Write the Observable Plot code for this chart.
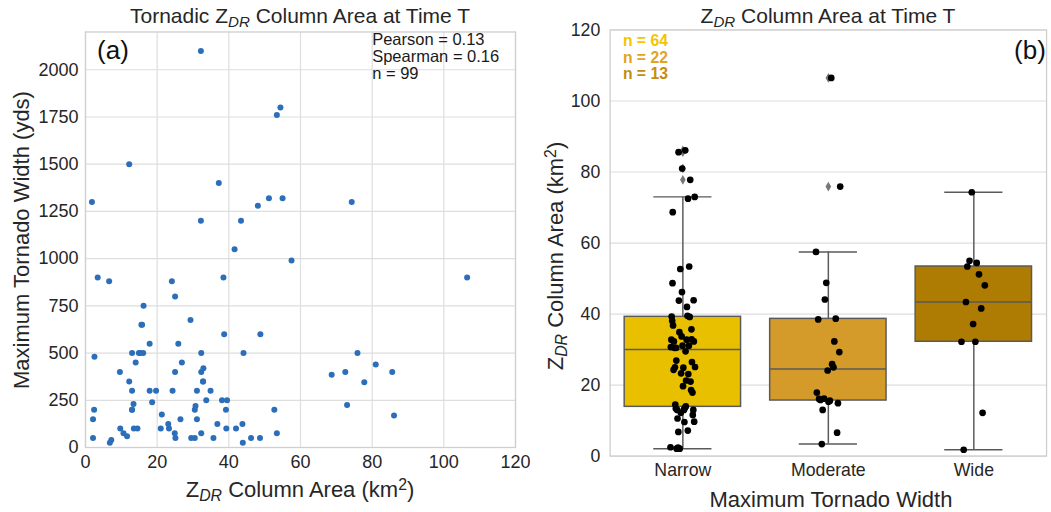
<!DOCTYPE html>
<html>
<head>
<meta charset="utf-8">
<script src="https://cdn.jsdelivr.net/npm/d3@7"></script>
<script src="https://cdn.jsdelivr.net/npm/@observablehq/plot@0.6"></script>
<style>
  html, body { margin: 0; padding: 0; background: #fff; }
  body { width: 1051px; height: 512px; overflow: hidden; position: relative;
         font-family: "Liberation Sans", Arial, sans-serif; color: #262626; }
  .lbl { position: absolute; white-space: nowrap; transform: translate(-50%, -50%); line-height: 1; }
  .rot { transform: translate(-50%, -50%) rotate(-90deg); }
  sub { font-style: italic; font-size: 0.72em; vertical-align: -0.28em; line-height: 0; }
  sup { font-size: 0.72em; vertical-align: 0.45em; line-height: 0; }
  #left, #right { position: absolute; top: 0; }
  #left { left: 0; }
  #right { left: 530px; }
</style>
</head>
<body>
<div id="left"></div>
<div id="right"></div>

<div class="lbl" style="left:300px; top:15px; font-size:21px;">Tornadic Z<sub>DR</sub> Column Area at Time T</div>
<div class="lbl" style="left:300px; top:490px; font-size:22px;">Z<sub>DR</sub> Column Area (km<sup>2</sup>)</div>
<div class="lbl rot" style="left:22px; top:240px; font-size:22px;">Maximum Tornado Width (yds)</div>
<div class="lbl" style="left:113px; top:50px; font-size:26px; color:#111;">(a)</div>

<div class="lbl" style="left:828px; top:15px; font-size:21px;">Z<sub>DR</sub> Column Area at Time T</div>
<div class="lbl" style="left:831px; top:500px; font-size:22px;">Maximum Tornado Width</div>
<div class="lbl rot" style="left:556px; top:256px; font-size:22px;">Z<sub>DR</sub> Column Area (km<sup>2</sup>)</div>
<div class="lbl" style="left:1030px; top:50px; font-size:26px; color:#111;">(b)</div>

<script>
// ---------- data ----------
// ZDR column area (km^2) for each tornado
const zdrArea = [
  // wide (>= 1000 yds)
  32.2, 54.4, 53.4, 12.2, 37.2, 1.8, 51.2, 55.0, 48.1, 32.2, 43.4, 41.6, 74.3,
  // moderate (500-999 yds)
  57.5, 106.5, 3.4, 6.6, 24.1, 38.5, 25.0, 16.2, 29.3, 15.6, 15.8, 38.7, 48.8,
  17.9, 25.9, 13.0, 14.9, 15.3, 16.1, 32.3, 44.1, 75.9,
  // narrow (< 500 yds)
  2.5, 14.0, 26.9, 32.9, 81.0, 68.7, 72.5, 85.6, 32.3, 9.6, 25.0, 77.8, 12.2,
  32.8, 32.8, 13.0, 17.9, 19.7, 24.3, 31.1, 34.9, 73.0, 86.1, 13.4, 18.6, 33.7,
  38.1, 39.5, 2.4, 13.0, 13.0, 30.5, 39.2, 52.7, 30.7, 21.3, 2.1, 26.5, 31.1,
  36.8, 23.1, 43.8, 9.7, 13.5, 14.5, 21.0, 23.3, 39.3, 42.0, 10.6, 11.6, 24.9,
  32.3, 53.4, 2.1, 25.1, 29.5, 30.5, 35.7, 46.2, 48.7, 7.2, 6.8, 43.9
];
// maximum tornado width (yds), same order
const tornadoWidth = [
  2100, 1800, 1760, 1500, 1400, 1300, 1320, 1320, 1280, 1200, 1200, 1050, 1300,
  990, 900, 900, 880, 880, 900, 800, 750, 675, 650, 650, 600, 600,
  550, 550, 500, 500, 500, 500, 500, 500, 500,
  480, 450, 450, 420, 440, 385, 400, 400, 400, 400, 400, 345, 350,
  350, 350, 300, 300, 300, 300, 300, 300, 225, 170, 230, 240, 250,
  250, 250, 200, 200, 200, 200, 200, 200, 220, 175, 150, 150, 150,
  125, 125, 125, 100, 100, 100, 100, 100, 100, 100, 75, 60, 75,
  75, 75, 50, 50, 50, 50, 50, 50, 50, 40, 25, 25
];
const widthClasses = ["Narrow", "Moderate", "Wide"];
const classLimits = [500, 1000];           // yds
const boxFills = ["#E8C000", "#D49B2A", "#AE7B03"];
const nColors = ["#F4C400", "#E3A31E", "#C68C0E"];
const statLabels = ["Pearson = 0.13", "Spearman = 0.16"];
const xTicksA = [0, 20, 40, 60, 80, 100, 120];
const yTicksA = [0, 250, 500, 750, 1000, 1250, 1500, 1750, 2000];
const yTicksB = [0, 20, 40, 60, 80, 100, 120];

// ---------- derived tables ----------
const points = zdrArea.map((a, i) => ({area: a, width: tornadoWidth[i]}));
const classOf = w => w < classLimits[0] ? 0 : w < classLimits[1] ? 1 : 2;
const strip = [];
const counters = [0, 0, 0];
points.forEach(p => {
  const c = classOf(p.width);
  const k = counters[c]++;
  const jit = (((k * 0.61803398875) % 1) - 0.5) * 0.17;
  strip.push({cls: c, area: p.area, xj: c + jit});
});
const groups = widthClasses.map((name, c) => {
  const v = strip.filter(d => d.cls === c).map(d => d.area).sort(d3.ascending);
  const q1 = d3.quantile(v, 0.25), med = d3.quantile(v, 0.5), q3 = d3.quantile(v, 0.75);
  const iqr = q3 - q1;
  const lo = d3.min(v.filter(x => x >= q1 - 1.5 * iqr));
  const hi = d3.max(v.filter(x => x <= q3 + 1.5 * iqr));
  const out = v.filter(x => x < lo || x > hi);
  return {c, name, n: v.length, q1, med, q3, lo, hi, out, fill: boxFills[c], ncol: nColors[c]};
});
const fliers = groups.flatMap(g => g.out.map(v => ({c: g.c, v})));
const statLines = [...statLabels, `n = ${points.length}`];

const font = '"Liberation Sans", Arial, sans-serif';
const grid = "#dedede";
const frameCol = "#cfcfcf";

// ---------- panel (a) ----------
const left = Plot.plot({
  width: 530, height: 512,
  marginLeft: 85, marginRight: 15, marginTop: 31.5, marginBottom: 65,
  style: {fontSize: "18px", fontFamily: font, color: "#262626", background: "transparent"},
  x: {domain: [0, 120], label: null},
  y: {domain: [0, 2200], label: null},
  marks: [
    Plot.gridX(xTicksA, {stroke: grid, strokeOpacity: 1, strokeWidth: 1.2}),
    Plot.gridY(yTicksA, {stroke: grid, strokeOpacity: 1, strokeWidth: 1.2}),
    Plot.frame({stroke: frameCol, strokeWidth: 1.3}),
    Plot.dot(points, {x: "area", y: "width", r: 3, fill: "#2C6EBA", stroke: "none"}),
    Plot.axisX(xTicksA, {tickSize: 0, tickPadding: 8, label: null, fontSize: 18, tickFormat: d3.format("d")}),
    Plot.axisY(yTicksA, {tickSize: 0, tickPadding: 7, label: null, fontSize: 18, tickFormat: d3.format("d")}),
    ...statLines.map((s, i) => Plot.text([s], {
      x: 80, y: 2200, text: d => d, textAnchor: "start", lineAnchor: "top",
      dy: 1 + i * 17, fontSize: 16.5, fill: "#1a1a1a"
    }))
  ]
});
document.getElementById("left").appendChild(left);

// ---------- panel (b) ----------
const boxStroke = "#5a5a5a";
const right = Plot.plot({
  width: 530, height: 512,
  marginLeft: 81, marginRight: 5, marginTop: 30, marginBottom: 48.5,
  style: {fontSize: "18px", fontFamily: font, color: "#262626", background: "transparent"},
  x: {domain: [-0.5, 2.5], label: null},
  y: {domain: [0, 120], label: null},
  marks: [
    Plot.gridY(yTicksB, {stroke: grid, strokeOpacity: 1, strokeWidth: 1.2}),
    Plot.frame({stroke: frameCol, strokeWidth: 1.3}),
    // whiskers
    Plot.ruleX(groups, {x: "c", y1: "q3", y2: "hi", stroke: boxStroke, strokeWidth: 1.5}),
    Plot.ruleX(groups, {x: "c", y1: "q1", y2: "lo", stroke: boxStroke, strokeWidth: 1.5}),
    Plot.ruleY(groups, {y: "hi", x1: d => d.c - 0.2, x2: d => d.c + 0.2, stroke: boxStroke, strokeWidth: 1.5}),
    Plot.ruleY(groups, {y: "lo", x1: d => d.c - 0.2, x2: d => d.c + 0.2, stroke: boxStroke, strokeWidth: 1.5}),
    // boxes
    Plot.rect(groups, {x1: d => d.c - 0.4, x2: d => d.c + 0.4, y1: "q1", y2: "q3",
      fill: "fill", stroke: boxStroke, strokeWidth: 1.5}),
    Plot.ruleY(groups, {y: "med", x1: d => d.c - 0.4, x2: d => d.c + 0.4, stroke: boxStroke, strokeWidth: 1.5}),
    // fliers
    Plot.dot(fliers, {x: "c", y: "v", symbol: "diamond", r: 3, fill: "#777", stroke: "none"}),
    // strip points
    Plot.dot(strip, {x: "xj", y: "area", r: 3.4, fill: "#000", stroke: "none"}),
    Plot.axisX([0, 1, 2], {tickSize: 0, tickPadding: 7, tickFormat: i => widthClasses[i], fontSize: 18, label: null}),
    Plot.axisY(yTicksB, {tickSize: 0, tickPadding: 10, fontSize: 18, label: null}),
    ...groups.map((g, i) => Plot.text([g], {
      frameAnchor: "top-left", text: d => `n = ${d.n}`, fill: "ncol",
      fontWeight: "bold", fontSize: 16, textAnchor: "start", lineAnchor: "top",
      dx: 13, dy: 5 + i * 17
    }))
  ]
});
document.getElementById("right").appendChild(right);
</script>
</body>
</html>
